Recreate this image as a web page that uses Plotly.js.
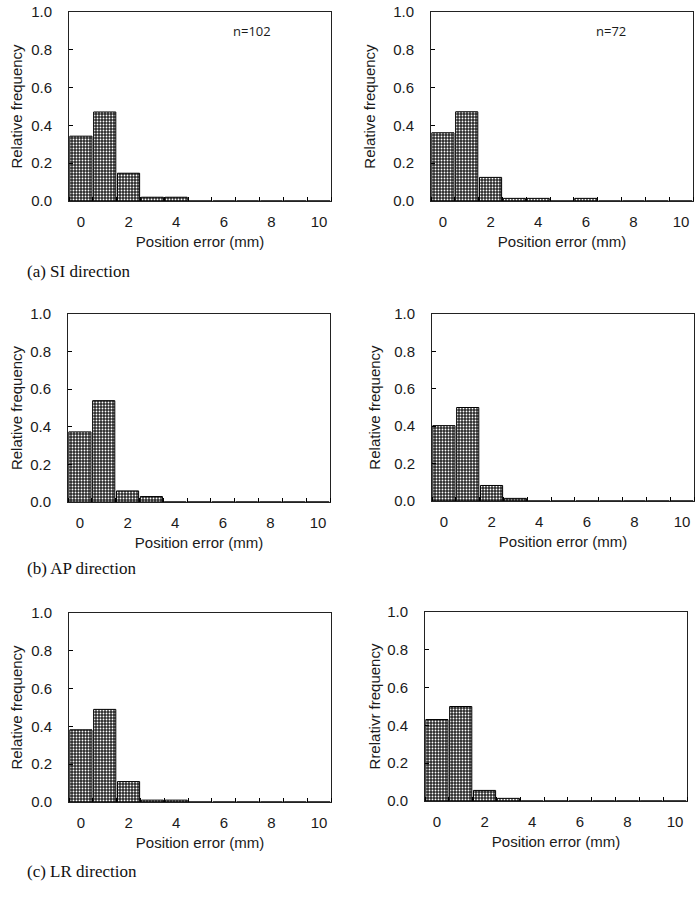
<!DOCTYPE html>
<html>
<head>
<meta charset="utf-8">
<script src="https://cdn.plot.ly/plotly-3.0.1.min.js"></script>
<style>html,body{margin:0;padding:0;background:#fff;}#chart{width:698px;height:899px;}</style>
</head>
<body>
<div id="chart"></div>
<script>
// Bin centres (position error, mm)
const bins = [0, 1, 2, 3, 4, 5, 6, 7, 8, 9, 10];
// Relative frequencies
const siLeft  = [0.343, 0.471, 0.147, 0.020, 0.020, 0, 0, 0, 0, 0, 0];
const siRight = [0.361, 0.472, 0.125, 0.014, 0.014, 0, 0.014, 0, 0, 0, 0];
const apLeft  = [0.373, 0.539, 0.059, 0.029, 0, 0, 0, 0, 0, 0, 0];
const apRight = [0.403, 0.500, 0.083, 0.014, 0, 0, 0, 0, 0, 0, 0];
const lrLeft  = [0.382, 0.490, 0.108, 0.010, 0.010, 0, 0, 0, 0, 0, 0];
const lrRight = [0.431, 0.500, 0.056, 0.014, 0, 0, 0, 0, 0, 0, 0];
const seriesList = [siLeft, siRight, apLeft, apRight, lrLeft, lrRight];
const yTitles = ["Relative frequency", "Relative frequency", "Relative frequency",
                 "Relative frequency", "Relative frequency", "Rrelativr frequency"];
const xTitle = "Position error (mm)";
const nLabels = ["n=102", "n=72"];
const panelLabels = ["(a) SI direction", "(b) AP direction", "(c) LR direction"];

const W = 698, H = 899;
// panel boxes in pixels: [left, right, top, bottom]
const boxes = [
  [69, 331, 12, 201], [431, 693, 12, 201],
  [68, 330, 314, 502], [432, 694, 314, 501],
  [69, 331, 613, 802], [425, 687, 612, 801]
];
const yStandoff = [4, 13, 3, 9, 4, 2];

const tickFont = {family: "Liberation Sans, Arial, sans-serif", size: 15, color: "#1a1a1a"};
const titleFont = {family: "Liberation Sans, Arial, sans-serif", size: 15, color: "#1a1a1a"};

const data = [];
const layout = {
  width: W, height: H,
  margin: {l: 0, r: 0, t: 0, b: 0},
  paper_bgcolor: "#fff", plot_bgcolor: "#fff",
  showlegend: false,
  bargap: 0.07,
  annotations: [],
  font: tickFont
};

seriesList.forEach((vals, i) => {
  const k = i + 1;
  const xa = k === 1 ? "x" : "x" + k;
  const ya = k === 1 ? "y" : "y" + k;
  data.push({
    type: "bar", x: bins, y: vals, xaxis: xa, yaxis: ya,
    marker: {
      color: "#2a2a2a",
      line: {color: "#000", width: 1},
      pattern: {shape: ".", size: 3, solidity: 0.3, fgcolor: "#ffffff", bgcolor: "#2a2a2a"}
    },
    hoverinfo: "skip"
  });
  const b = boxes[i];
  const xaxName = k === 1 ? "xaxis" : "xaxis" + k;
  const yaxName = k === 1 ? "yaxis" : "yaxis" + k;
  layout[xaxName] = {
    domain: [b[0] / W, b[1] / W],
    anchor: ya,
    range: [-0.5, 10.5],
    tickmode: "linear", tick0: 0, dtick: 2,
    ticks: "",
    minor: {tick0: 0.5, dtick: 1, ticks: "inside", ticklen: 4, tickcolor: "#000", tickwidth: 1, showgrid: false},
    showgrid: false, zeroline: false,
    showline: true, mirror: true, linecolor: "#222", linewidth: 1,
    tickfont: tickFont,
    ticklabelstandoff: 7,
    title: {text: xTitle, font: titleFont, standoff: 7},
    automargin: false, fixedrange: true
  };
  layout[yaxName] = {
    domain: [1 - b[3] / H, 1 - b[2] / H],
    anchor: xa,
    range: [0, 1],
    tickmode: "linear", tick0: 0, dtick: 0.2,
    tickformat: ".1f",
    ticks: "inside", ticklen: 4, tickcolor: "#000",
    showgrid: false, zeroline: false,
    showline: true, mirror: true, linecolor: "#222", linewidth: 1,
    tickfont: tickFont,
    ticklabelstandoff: 13,
    title: {text: yTitles[i], font: titleFont, standoff: yStandoff[i]},
    automargin: false, fixedrange: true
  };
});

// n labels
[[251.7, 30.7], [610.7, 30.7]].forEach((p, j) => {
  layout.annotations.push({
    xref: "paper", yref: "paper", x: p[0] / W, y: 1 - p[1] / H,
    xanchor: "center", yanchor: "middle", showarrow: false,
    text: nLabels[j],
    font: {family: "Open Sans, Noto Sans, sans-serif", size: 13, color: "#1a1a1a"}
  });
});
// panel captions
[271.7, 568.3, 871.7].forEach((py, j) => {
  layout.annotations.push({
    xref: "paper", yref: "paper", x: 25 / W, y: 1 - py / H,
    xanchor: "left", yanchor: "middle", showarrow: false,
    text: panelLabels[j],
    font: {family: "Liberation Serif, Times New Roman, serif", size: 17, color: "#111"}
  });
});

Plotly.newPlot("chart", data, layout, {displayModeBar: false, staticPlot: true});
</script>
</body>
</html>
